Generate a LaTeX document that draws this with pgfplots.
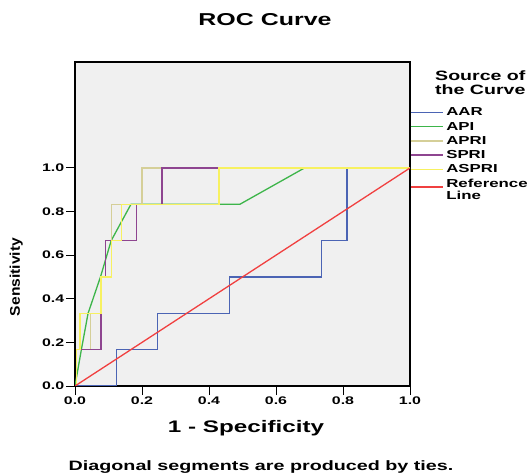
\documentclass[border=0pt]{standalone}
\usepackage{fontspec}
\setmainfont{Liberation Sans}
\usepackage{graphicx}
\usepackage{pgfplots}
\pgfplotsset{compat=1.18}

\definecolor{bgray}{HTML}{F0F0F0}
\definecolor{cAAR}{HTML}{4B64B4}
\definecolor{cAPI}{HTML}{3DB54A}
\definecolor{cAPRI}{HTML}{D5CF98}
\definecolor{cSPRI}{HTML}{8E4590}
\definecolor{cASPRI}{HTML}{F7F160}
\definecolor{cREF}{HTML}{F04040}

% SPSS output is stretched sideways
\newcommand{\wide}[1]{\scalebox{1.45}[1]{#1}}
\newcommand{\fs}[2]{\fontsize{#1bp}{#2bp}\selectfont\bfseries}

\begin{document}
\begin{tikzpicture}
\useasboundingbox (-75bp,-88bp) rectangle (457bp,386bp);
\begin{axis}[
    at={(0,0)}, anchor=south west,
    scale only axis,
    width=335bp, height=324bp,
    xmin=0, xmax=1,
    ymin=0, ymax=1.486,
    axis background/.style={fill=bgray},
    axis line style={line width=1.4bp, black},
    xtick={0,0.2,0.4,0.6,0.8,1.0},
    ytick={0,0.2,0.4,0.6,0.8,1.0},
    xticklabels={\wide{0.0},\wide{0.2},\wide{0.4},\wide{0.6},\wide{0.8},\wide{1.0}},
    yticklabels={\wide{0.0},\wide{0.2},\wide{0.4},\wide{0.6},\wide{0.8},\wide{1.0}},
    xtick pos=bottom, ytick pos=left,
    tick align=outside,
    major tick length=9bp,
    tick style={line width=1bp, black},
    ticklabel style={font=\fs{11}{13}},
    xticklabel style={inner sep=1.5bp},
    yticklabel style={inner sep=1.5bp},
    legend cell align=left,
    legend style={draw=none, fill=none, at={(1,0.858)}, anchor=north west,
        inner sep=0pt, outer sep=0pt, row sep=4.6bp, column sep=3bp,
        font=\fs{11.6}{12}, nodes={inner sep=0pt}},
    legend image code/.code={\draw[#1, line width=1.3bp] (0bp,0bp) -- (32bp,0bp);},
]
\addplot[cAAR, line width=1.3bp] coordinates {
    (0,0) (0.123,0) (0.123,0.1667) (0.247,0.1667) (0.247,0.3333)
    (0.461,0.3333) (0.461,0.5) (0.736,0.5) (0.736,0.6667)
    (0.812,0.6667) (0.812,1) (1,1)
};
\addlegendentry{\wide{AAR}}

\addplot[cAPI, line width=1.3bp] coordinates {
    (0,0) (0.019,0.1667) (0.039,0.3333) (0.076,0.5) (0.108,0.6667)
    (0.167,0.8333) (0.492,0.8333) (0.685,1) (1,1)
};
\addlegendentry{\wide{API}}

\addplot[cAPRI, line width=1.3bp] coordinates {
    (0,0) (0.005,0) (0.005,0.1667) (0.047,0.1667) (0.047,0.3333)
    (0.078,0.3333) (0.078,0.5) (0.108,0.5) (0.108,0.8333)
    (0.2,0.8333) (0.2,1) (1,1)
};
\addlegendentry{\wide{APRI}}

\addplot[cSPRI, line width=1.3bp] coordinates {
    (0,0) (0.005,0) (0.005,0.1667) (0.078,0.1667) (0.078,0.5)
    (0.091,0.5) (0.091,0.6667) (0.183,0.6667) (0.183,0.8333)
    (0.26,0.8333) (0.26,1) (1,1)
};
\addlegendentry{\wide{SPRI}}

\addplot[cASPRI, line width=1.3bp] coordinates {
    (0,0) (0.005,0) (0.005,0.1667) (0.015,0.1667) (0.015,0.3333)
    (0.078,0.3333) (0.078,0.5) (0.108,0.5) (0.108,0.6667)
    (0.138,0.6667) (0.138,0.8333) (0.43,0.8333) (0.43,1) (1,1)
};
\addlegendentry{\wide{ASPRI}}

\addplot[cREF, line width=1.3bp] coordinates {(0,0) (1,1)};
\addlegendentry{\begin{tabular}[c]{@{}l@{}}\wide{Reference}\\\wide{Line}\end{tabular}}
\end{axis}

\node[anchor=base, inner sep=0pt, font=\fs{17.2}{18}] at (190bp,360bp) {\wide{ROC Curve}};
\node[anchor=base, inner sep=0pt, font=\fs{16.7}{18}] at (171bp,-46.7bp) {\wide{1 - Specificity}};
\node[anchor=base, inner sep=0pt, font=\fs{13.6}{16}] at (186bp,-84bp) {\wide{Diagonal segments are produced by ties.}};
\node[rotate=90, anchor=base, inner sep=0pt, font=\fs{15.6}{17}] at (-55bp,109bp) {\scalebox{1}[0.9]{Sensitivity}};
\node[anchor=base west, inner sep=0pt, font=\fs{13.5}{14}] at (360bp,305bp) {\wide{Source of}};
\node[anchor=base west, inner sep=0pt, font=\fs{13.5}{14}] at (360bp,291bp) {\wide{the Curve}};
\end{tikzpicture}
\end{document}
